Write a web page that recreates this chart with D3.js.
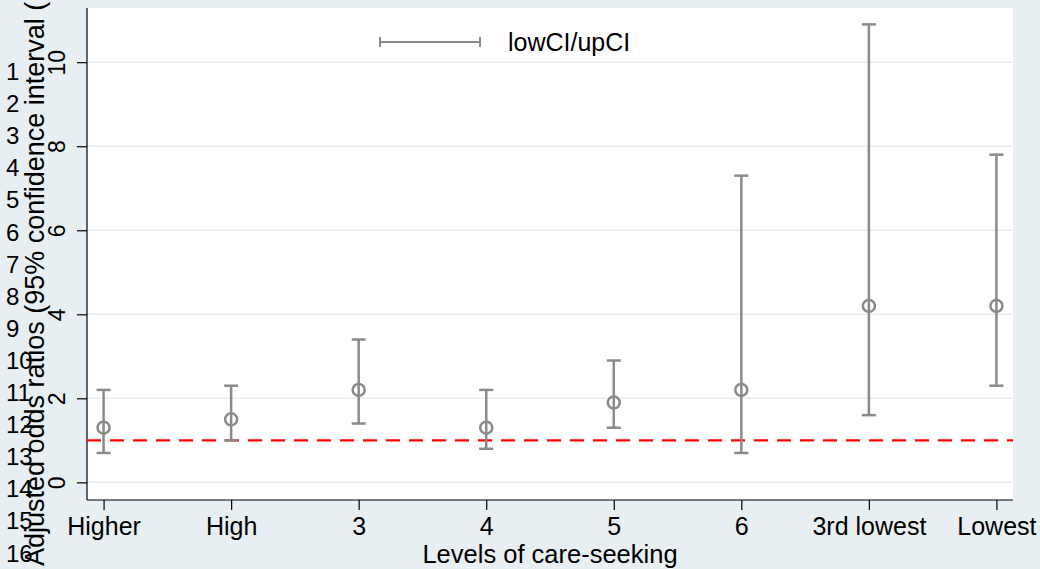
<!DOCTYPE html>
<html>
<head>
<meta charset="utf-8">
<script src="https://cdn.jsdelivr.net/npm/d3@7"></script>
<style>
  body { margin: 0; background: #e8eff2; }
  text { font-family: "Liberation Sans", Arial, sans-serif; }
</style>
</head>
<body>
<div id="chart"></div>
<script>
// data
const levels = ['Higher', 'High', '3', '4', '5', '6', '3rd lowest', 'Lowest'];
const oddsRatio = [1.3, 1.5, 2.2, 1.3, 1.9, 2.2, 4.2, 4.2];
const lowCI = [0.7, 1.0, 1.4, 0.8, 1.3, 0.7, 1.6, 2.3];
const upCI = [2.2, 2.3, 3.4, 2.2, 2.9, 7.3, 10.9, 7.8];
const yTicks = [0, 2, 4, 6, 8, 10];
const refLine = 1;
const sideNumbers = d3.range(1, 17);

const rows = levels.map((d, i) => ({ level: d, or: oddsRatio[i], lo: lowCI[i], hi: upCI[i] }));

const width = 1040, height = 569;
const plot = { left: 87, right: 1013, top: 8, bottom: 500 };
const grey = '#8a8a8a';

const svg = d3.select('#chart')
  .append('svg')
    .attr('width', width)
    .attr('height', height)
    .style('display', 'block');

svg.append('rect')
  .attr('width', width).attr('height', height)
  .attr('fill', '#e8eff2');

// white plot region
svg.append('rect')
  .attr('x', plot.left).attr('y', plot.top)
  .attr('width', plot.right - plot.left).attr('height', plot.bottom - plot.top)
  .attr('fill', '#fff');

const x = d3.scalePoint()
  .domain(levels)
  .range([plot.left, plot.right])
  .padding(0.13);

const y = d3.scaleLinear()
  .domain([-0.42, 11.29])
  .range([plot.bottom, plot.top]);

// gridlines
svg.append('g')
  .selectAll('line')
  .data(yTicks)
  .enter()
  .append('line')
    .attr('x1', plot.left).attr('x2', plot.right)
    .attr('y1', d => y(d)).attr('y2', d => y(d))
    .attr('stroke', '#e6eef1')
    .attr('stroke-width', 1.5);

// y axis
const yAxis = svg.append('g')
  .attr('transform', `translate(${plot.left},0)`)
  .call(d3.axisLeft(y).tickValues(yTicks).tickSize(10).tickPadding(0).tickFormat(d3.format('d')));
yAxis.select('.domain').attr('stroke', '#000').attr('stroke-width', 1.2).attr('d', `M0,${plot.top}V${plot.bottom}`);
yAxis.selectAll('.tick line').attr('stroke', '#000').attr('stroke-width', 1.2);
yAxis.selectAll('.tick text')
  .attr('transform', 'rotate(-90)')
  .attr('x', 0).attr('y', -22)
  .attr('dy', 0)
  .attr('text-anchor', 'middle')
  .style('font-size', '23px')
  .attr('fill', '#000');

// x axis
const xAxis = svg.append('g')
  .attr('transform', `translate(0,${plot.bottom})`)
  .call(d3.axisBottom(x).tickSize(10).tickPadding(0));
xAxis.select('.domain').attr('stroke', '#000').attr('stroke-width', 1.2).attr('d', `M${plot.left},0H${plot.right}`);
xAxis.selectAll('.tick line').attr('stroke', '#000').attr('stroke-width', 1.2);
xAxis.selectAll('.tick text')
  .attr('y', 34.5).attr('dy', 0)
  .style('font-size', '25px')
  .attr('fill', '#000');

// reference line at 1
svg.append('line')
  .attr('x1', plot.left).attr('x2', plot.right)
  .attr('y1', y(refLine)).attr('y2', y(refLine))
  .attr('stroke', '#ff0000')
  .attr('stroke-width', 2.4)
  .attr('stroke-dasharray', '14,9');

// error bars
const bars = svg.append('g')
  .selectAll('g')
  .data(rows)
  .enter()
  .append('g')
    .attr('stroke', grey)
    .attr('stroke-width', 2.5)
    .attr('fill', 'none');

bars.append('line')
  .attr('x1', d => x(d.level)).attr('x2', d => x(d.level))
  .attr('y1', d => y(d.lo)).attr('y2', d => y(d.hi));
bars.append('line')
  .attr('x1', d => x(d.level) - 7).attr('x2', d => x(d.level) + 7)
  .attr('y1', d => y(d.lo)).attr('y2', d => y(d.lo));
bars.append('line')
  .attr('x1', d => x(d.level) - 7).attr('x2', d => x(d.level) + 7)
  .attr('y1', d => y(d.hi)).attr('y2', d => y(d.hi));
bars.append('circle')
  .attr('cx', d => x(d.level))
  .attr('cy', d => y(d.or))
  .attr('r', 6)
  .append('svg:title')
    .text(d => d.level + ': ' + d.or + ' (' + d.lo + ', ' + d.hi + ')');

// legend
const legend = svg.append('g').attr('stroke', grey).attr('stroke-width', 2);
legend.append('line').attr('x1', 380).attr('x2', 480).attr('y1', 42).attr('y2', 42);
legend.append('line').attr('x1', 380).attr('x2', 380).attr('y1', 37).attr('y2', 47);
legend.append('line').attr('x1', 480).attr('x2', 480).attr('y1', 37).attr('y2', 47);
svg.append('text')
  .attr('x', 508).attr('y', 51)
  .style('font-size', '25px')
  .attr('fill', '#000')
  .text('lowCI/upCI');

// axis titles
svg.append('text')
  .attr('x', 550).attr('y', 563)
  .attr('text-anchor', 'middle')
  .style('font-size', '25.5px')
  .attr('fill', '#000')
  .text('Levels of care-seeking');

svg.append('text')
  .attr('transform', 'translate(44,566) rotate(-90)')
  .style('font-size', '27px')
  .attr('fill', '#000')
  .text('Adjusted odds ratios (95% confidence interval (');

// stray numbers down the left edge
svg.append('g')
  .selectAll('text')
  .data(sideNumbers)
  .enter()
  .append('text')
    .attr('x', 6)
    .attr('y', (d, i) => 80 + i * 32.1)
    .style('font-size', '24px')
    .attr('fill', '#000')
    .text(d => d);
</script>
</body>
</html>
